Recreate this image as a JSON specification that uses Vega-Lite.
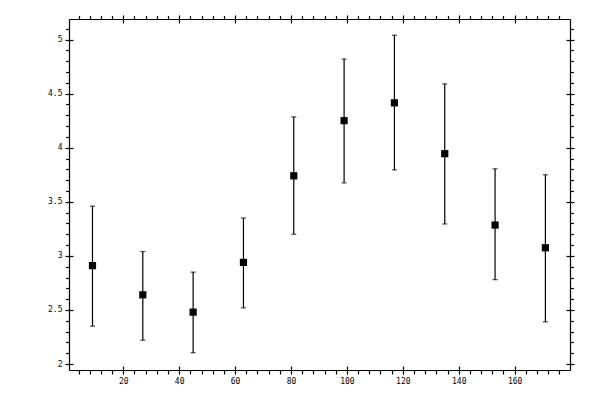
{
  "$schema": "https://vega.github.io/schema/vega-lite/v6.json",
  "width": 501,
  "height": 351,
  "autosize": {"type": "none"},
  "padding": {"left": 69, "top": 19, "right": 30, "bottom": 30},
  "background": "white",
  "data": {
    "values": [
      {"x": 9, "y": 2.91, "lo": 2.35, "hi": 3.46},
      {"x": 27, "y": 2.64, "lo": 2.22, "hi": 3.04},
      {"x": 45, "y": 2.48, "lo": 2.105, "hi": 2.85},
      {"x": 63, "y": 2.94, "lo": 2.52, "hi": 3.35},
      {"x": 81, "y": 3.74, "lo": 3.2, "hi": 4.285},
      {"x": 99, "y": 4.25, "lo": 3.675, "hi": 4.82},
      {"x": 117, "y": 4.415, "lo": 3.795, "hi": 5.04},
      {"x": 135, "y": 3.945, "lo": 3.295, "hi": 4.59},
      {"x": 153, "y": 3.285, "lo": 2.78, "hi": 3.805},
      {"x": 171, "y": 3.075, "lo": 2.39, "hi": 3.75}
    ]
  },
  "resolve": {"axis": {"x": "independent", "y": "independent"}},
  "layer": [
    {
      "mark": {"type": "rule", "color": "black", "strokeWidth": 1.2},
      "encoding": {
        "x": {
          "field": "x", "type": "quantitative",
          "scale": {"domain": [0.6, 179.8], "nice": false, "zero": false},
          "axis": {"orient": "bottom", "title": null, "offset": -4, "tickSize": 8, "domain": false,
                   "values": [20, 40, 60, 80, 100, 120, 140, 160], "labelPadding": 3}
        },
        "y": {
          "field": "lo", "type": "quantitative",
          "scale": {"domain": [1.945, 5.19], "nice": false, "zero": false},
          "axis": {"orient": "left", "title": null, "offset": -4, "tickSize": 8, "domain": false,
                   "values": [2, 2.5, 3, 3.5, 4, 4.5, 5], "labelPadding": 3, "format": "~g"}
        },
        "y2": {"field": "hi"}
      }
    },
    {
      "mark": {"type": "tick", "orient": "horizontal", "color": "black", "size": 5, "thickness": 1.2},
      "encoding": {
        "x": {
          "field": "x", "type": "quantitative",
          "scale": {"domain": [0.6, 179.8], "nice": false, "zero": false},
          "axis": {"orient": "bottom", "title": null, "tickSize": 4, "labels": false, "domain": true,
                   "values": [4, 8, 12, 16, 24, 28, 32, 36, 44, 48, 52, 56, 64, 68, 72, 76, 84, 88, 92, 96, 104, 108, 112, 116, 124, 128, 132, 136, 144, 148, 152, 156, 164, 168, 172, 176]}
        },
        "y": {
          "field": "lo", "type": "quantitative",
          "scale": {"domain": [1.945, 5.19], "nice": false, "zero": false},
          "axis": {"orient": "left", "title": null, "tickSize": 3.5, "labels": false, "domain": true,
                   "values": [2.1, 2.2, 2.3, 2.4, 2.6, 2.7, 2.8, 2.9, 3.1, 3.2, 3.3, 3.4, 3.6, 3.7, 3.8, 3.9, 4.1, 4.2, 4.3, 4.4, 4.6, 4.7, 4.8, 4.9, 5.1]}
        }
      }
    },
    {
      "mark": {"type": "tick", "orient": "horizontal", "color": "black", "size": 5, "thickness": 1.2},
      "encoding": {
        "x": {
          "field": "x", "type": "quantitative",
          "scale": {"domain": [0.6, 179.8], "nice": false, "zero": false},
          "axis": {"orient": "top", "title": null, "offset": -4, "tickSize": 8, "domain": false, "labels": false,
                   "values": [20, 40, 60, 80, 100, 120, 140, 160]}
        },
        "y": {
          "field": "hi", "type": "quantitative",
          "scale": {"domain": [1.945, 5.19], "nice": false, "zero": false},
          "axis": {"orient": "right", "title": null, "offset": -4, "tickSize": 8, "domain": false, "labels": false,
                   "values": [2, 2.5, 3, 3.5, 4, 4.5, 5]}
        }
      }
    },
    {
      "mark": {"type": "square", "color": "black", "filled": true, "opacity": 1, "size": 52},
      "encoding": {
        "x": {
          "field": "x", "type": "quantitative",
          "scale": {"domain": [0.6, 179.8], "nice": false, "zero": false},
          "axis": {"orient": "top", "title": null, "tickSize": 3.5, "labels": false, "domain": true,
                   "values": [4, 8, 12, 16, 24, 28, 32, 36, 44, 48, 52, 56, 64, 68, 72, 76, 84, 88, 92, 96, 104, 108, 112, 116, 124, 128, 132, 136, 144, 148, 152, 156, 164, 168, 172, 176]}
        },
        "y": {
          "field": "y", "type": "quantitative",
          "scale": {"domain": [1.945, 5.19], "nice": false, "zero": false},
          "axis": {"orient": "right", "title": null, "tickSize": 3.5, "labels": false, "domain": true,
                   "values": [2.1, 2.2, 2.3, 2.4, 2.6, 2.7, 2.8, 2.9, 3.1, 3.2, 3.3, 3.4, 3.6, 3.7, 3.8, 3.9, 4.1, 4.2, 4.3, 4.4, 4.6, 4.7, 4.8, 4.9, 5.1]}
        }
      }
    }
  ],
  "config": {
    "view": {"stroke": null},
    "axis": {
      "grid": false,
      "domainColor": "black",
      "domainWidth": 1.2,
      "tickColor": "black",
      "tickWidth": 1.2,
      "labelColor": "black",
      "labelFont": "DejaVu Sans Mono",
      "labelFontSize": 8,
      "labelFlush": false,
      "labelOverlap": false
    }
  }
}
